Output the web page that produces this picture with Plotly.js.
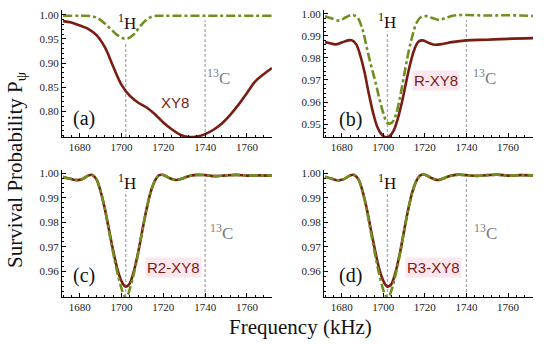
<!DOCTYPE html>
<html>
<head>
<meta charset="utf-8">
<script src="https://cdn.plot.ly/plotly-3.0.1.min.js"></script>
<style>html,body{margin:0;padding:0;background:#fff}#chart{width:550px;height:344px}</style>
</head>
<body>
<div id="chart"></div>
<script>
// ---------- data ----------
// Panel (a): XY8
const freqA = [1672,1676,1680,1684,1688,1692,1696,1700,1704,1708,1712,1716,1720,1724,1728,1732,1736,1740,1744,1748,1752,1756,1760,1764,1768,1772];
const redA  = [0.987,0.984,0.978,0.971,0.958,0.933,0.893,0.855,0.832,0.818,0.808,0.794,0.777,0.763,0.752,0.747,0.748,0.753,0.762,0.775,0.793,0.814,0.838,0.862,0.877,0.890];
const freqAg = [1672,1680,1686,1689,1692,1695,1698,1701,1703,1706,1709,1712,1715,1720,1740,1772];
const greenA = [0.998,0.998,0.997,0.992,0.982,0.970,0.958,0.951,0.951,0.960,0.977,0.990,0.997,0.998,0.998,0.998];

// Panel (b): R-XY8
const freqB = [1672,1674,1677,1680,1683,1685,1687,1689,1691,1693,1695,1697,1699,1701,1703,1705,1707,1709,1711,1713,1715,1717,1719,1722,1725,1729,1733,1740,1750,1760,1772];
const redB  = [0.9872,0.9868,0.9862,0.9870,0.9880,0.9880,0.9862,0.9810,0.9735,0.9640,0.9555,0.9490,0.9455,0.9440,0.9445,0.9470,0.9525,0.9600,0.9690,0.9775,0.9840,0.9875,0.9880,0.9868,0.9860,0.9865,0.9872,0.9880,0.9883,0.9887,0.9890];
const freqBg = [1672,1675,1679,1682,1685,1687.5,1690,1692,1694,1696,1698,1700,1702,1704,1706,1708,1710,1712,1714,1716,1718,1721,1724,1727,1730,1734,1740,1750,1760,1772];
const greenB = [0.9990,0.9980,0.9970,0.9985,0.9995,0.9985,0.9930,0.9850,0.9770,0.9700,0.9620,0.9550,0.9505,0.9505,0.9540,0.9620,0.9720,0.9820,0.9900,0.9960,0.9985,0.9990,0.9980,0.9973,0.9982,0.9993,0.9995,0.9993,0.9994,0.9991];

// Panel (c): R2-XY8
const freqC = [1672,1675,1678,1681,1684,1686,1688,1690,1692,1694,1696,1698,1700,1701,1702,1703,1704,1706,1708,1710,1712,1714,1716,1718,1720,1723,1726,1729,1732,1736,1740,1745,1750,1755,1760,1766,1772];
const redC   = [0.9985,0.9978,0.9972,0.9975,0.9990,0.9993,0.9975,0.9925,0.9855,0.9770,0.9685,0.9610,0.9560,0.9545,0.9538,0.9542,0.9552,0.9605,0.9680,0.9770,0.9855,0.9925,0.9970,0.9992,0.9993,0.9980,0.9972,0.9978,0.9988,0.9993,0.9992,0.9988,0.9991,0.9993,0.9990,0.9991,0.9990];
const greenC = [0.9985,0.9978,0.9972,0.9975,0.9990,0.9993,0.9975,0.9925,0.9855,0.9765,0.9675,0.9595,0.9530,0.9505,0.9497,0.9505,0.9530,0.9595,0.9675,0.9768,0.9855,0.9925,0.9970,0.9992,0.9993,0.9980,0.9972,0.9978,0.9988,0.9993,0.9992,0.9988,0.9991,0.9993,0.9990,0.9991,0.9990];

// Panel (d): R3-XY8
const freqD = [1672,1675,1678,1681,1684,1686,1688,1690,1692,1694,1696,1698,1700,1701,1702,1703,1704,1706,1708,1710,1712,1714,1716,1718,1720,1723,1726,1729,1732,1736,1740,1745,1750,1755,1760,1766,1772];
const redD   = [0.9986,0.9978,0.9971,0.9976,0.9991,0.9993,0.9976,0.9928,0.9858,0.9772,0.9688,0.9612,0.9562,0.9546,0.9538,0.9541,0.9550,0.9600,0.9675,0.9765,0.9852,0.9924,0.9970,0.9992,0.9994,0.9981,0.9972,0.9979,0.9989,0.9994,0.9992,0.9989,0.9992,0.9994,0.9990,0.9992,0.9991];
const greenD = [0.9986,0.9978,0.9971,0.9976,0.9991,0.9993,0.9976,0.9925,0.9852,0.9762,0.9672,0.9590,0.9525,0.9503,0.9496,0.9503,0.9525,0.9590,0.9670,0.9765,0.9852,0.9924,0.9970,0.9992,0.9994,0.9981,0.9972,0.9979,0.9989,0.9994,0.9992,0.9989,0.9992,0.9994,0.9990,0.9992,0.9991];

// resonance markers
const resonanceFreqs = [1702, 1740];
const resonanceLabels = ['<sup>1</sup>H', '<sup>13</sup>C'];
const sequenceLabels = ['XY8', 'R-XY8', 'R2-XY8', 'R3-XY8'];
const panelLabels = ['(a)', '(b)', '(c)', '(d)'];
const xTicks = [1680, 1700, 1720, 1740, 1760];
const yTicksA = [0.80, 0.85, 0.90, 0.95, 1.00];
const yTicksB = [0.95, 0.96, 0.97, 0.98, 0.99, 1.00];
const yTicksCD = [0.96, 0.97, 0.98, 0.99, 1.00];

// ---------- styling ----------
const RED = '#7a1c12';
const GREEN = '#6f8f1f';
const SERIF = 'Liberation Serif';
const SANS = 'Liberation Sans';
const W = 550, H = 344;
const px = x => x / W;
const py = y => 1 - y / H;

const series = [
  [freqA, redA, freqAg, greenA],
  [freqB, redB, freqBg, greenB],
  [freqC, redC, freqC, greenC],
  [freqD, redD, freqD, greenD]
];

const traces = [];
series.forEach((s, i) => {
  const sfx = i === 0 ? '' : String(i + 1);
  traces.push({x: s[0], y: s[1], type: 'scatter', mode: 'lines', xaxis: 'x' + sfx, yaxis: 'y' + sfx,
    line: {color: RED, width: 2.6, shape: 'spline', smoothing: 1}, hoverinfo: 'skip', showlegend: false});
  traces.push({x: s[2], y: s[3], type: 'scatter', mode: 'lines', xaxis: 'x' + sfx, yaxis: 'y' + sfx,
    line: {color: GREEN, width: 2.6, shape: 'spline', smoothing: 1, dash: '9px,3px,3px,3px'}, hoverinfo: 'skip', showlegend: false});
});

const xDomL = [px(62), px(272)], xDomR = [px(324), px(533)];
const yDomT = [py(137), py(10)], yDomB = [py(297), py(170)];

function xAxis(dom, anchor) {
  return {domain: dom, anchor: anchor, range: [1671.5, 1772], tickvals: xTicks,
    showline: true, linecolor: '#000', linewidth: 1, mirror: false, showgrid: false, zeroline: false,
    ticks: 'inside', ticklen: 4, tickcolor: '#000', tickwidth: 1,
    minor: {dtick: 4, ticks: 'inside', ticklen: 2, tickcolor: '#000'},
    tickfont: {family: SERIF, size: 11, color: '#222'}, fixedrange: true};
}
function yAxis(dom, anchor, range, vals, minor) {
  return {domain: dom, anchor: anchor, range: range, tickvals: vals, tickformat: '.2f',
    showline: true, linecolor: '#000', linewidth: 1, mirror: false, showgrid: false, zeroline: false,
    ticks: 'inside', ticklen: 4, tickcolor: '#000', tickwidth: 1,
    minor: {dtick: minor, tick0: 0, ticks: 'inside', ticklen: 2, tickcolor: '#000'},
    tickfont: {family: SERIF, size: 11, color: '#222'}, fixedrange: true};
}

// dashed resonance lines: [panel, resonance index, top fraction of the axis height]
const lineSpecs = [
  ['', 0, 0.74], ['', 1, 0.92],
  ['2', 0, 0.83], ['2', 1, 0.92],
  ['3', 0, 0.83], ['3', 1, 0.945],
  ['4', 0, 0.83], ['4', 1, 0.945]
];
const shapes = lineSpecs.map(l => ({type: 'line', xref: 'x' + l[0], yref: 'y' + l[0] + ' domain',
  x0: resonanceFreqs[l[1]], x1: resonanceFreqs[l[1]], y0: 0, y1: l[2],
  line: {color: '#a8a8a8', width: 1.3, dash: '3px,2px'}, layer: 'below'}));

function ann(text, x, y, font, extra) {
  return Object.assign({text: text, xref: 'paper', yref: 'paper', x: px(x), y: py(y),
    xanchor: 'center', yanchor: 'middle', showarrow: false, font: font}, extra || {});
}
const hFont = {family: SERIF, size: 17, color: '#111'};
const cFont = {family: SERIF, size: 17, color: '#7a7a7a'};
const seqFont = {family: SANS, size: 15, color: RED};
const panFont = {family: SERIF, size: 20, color: '#111'};
const pink = 'rgba(250,215,228,0.6)';

const annotations = [
  // (a)
  ann(resonanceLabels[0], 127, 22, hFont), ann(resonanceLabels[1], 218, 77, cFont),
  ann(sequenceLabels[0], 175, 102, seqFont), ann(panelLabels[0], 84, 119, panFont),
  // (b)
  ann(resonanceLabels[0], 387, 21, hFont), ann(resonanceLabels[1], 484, 77, cFont),
  ann(sequenceLabels[1], 436, 81, seqFont, {bgcolor: pink}), ann(panelLabels[1], 350, 120, panFont),
  // (c)
  ann(resonanceLabels[0], 127, 182, hFont), ann(resonanceLabels[1], 221, 232, cFont),
  ann(sequenceLabels[2], 173, 267, seqFont, {bgcolor: pink}), ann(panelLabels[2], 84, 275, panFont),
  // (d)
  ann(resonanceLabels[0], 387, 182, hFont), ann(resonanceLabels[1], 485, 232, cFont),
  ann(sequenceLabels[3], 433, 267, seqFont, {bgcolor: pink}), ann(panelLabels[3], 350, 275, panFont),
  // axis titles
  ann('Frequency (kHz)', 300, 327, {family: SERIF, size: 21, color: '#111'}),
  ann('Survival Probability P<sub>ψ</sub>', 16, 170, {family: SERIF, size: 21, color: '#111'}, {textangle: -90})
];

const layout = {
  width: W, height: H, margin: {l: 0, r: 0, t: 0, b: 0},
  font: {family: SERIF},
  paper_bgcolor: '#fff', plot_bgcolor: 'rgba(0,0,0,0)', showlegend: false,
  xaxis: xAxis(xDomL, 'y'), yaxis: yAxis(yDomT, 'x', [0.747, 1.010], yTicksA, 0.01),
  xaxis2: xAxis(xDomR, 'y2'), yaxis2: yAxis(yDomT, 'x2', [0.9441, 1.0018], yTicksB, 0.002),
  xaxis3: xAxis(xDomL, 'y3'), yaxis3: yAxis(yDomB, 'x3', [0.9496, 1.0013], yTicksCD, 0.002),
  xaxis4: xAxis(xDomR, 'y4'), yaxis4: yAxis(yDomB, 'x4', [0.9496, 1.0013], yTicksCD, 0.002),
  shapes: shapes, annotations: annotations
};

Plotly.newPlot('chart', traces, layout, {staticPlot: true, displayModeBar: false});
</script>
</body>
</html>
